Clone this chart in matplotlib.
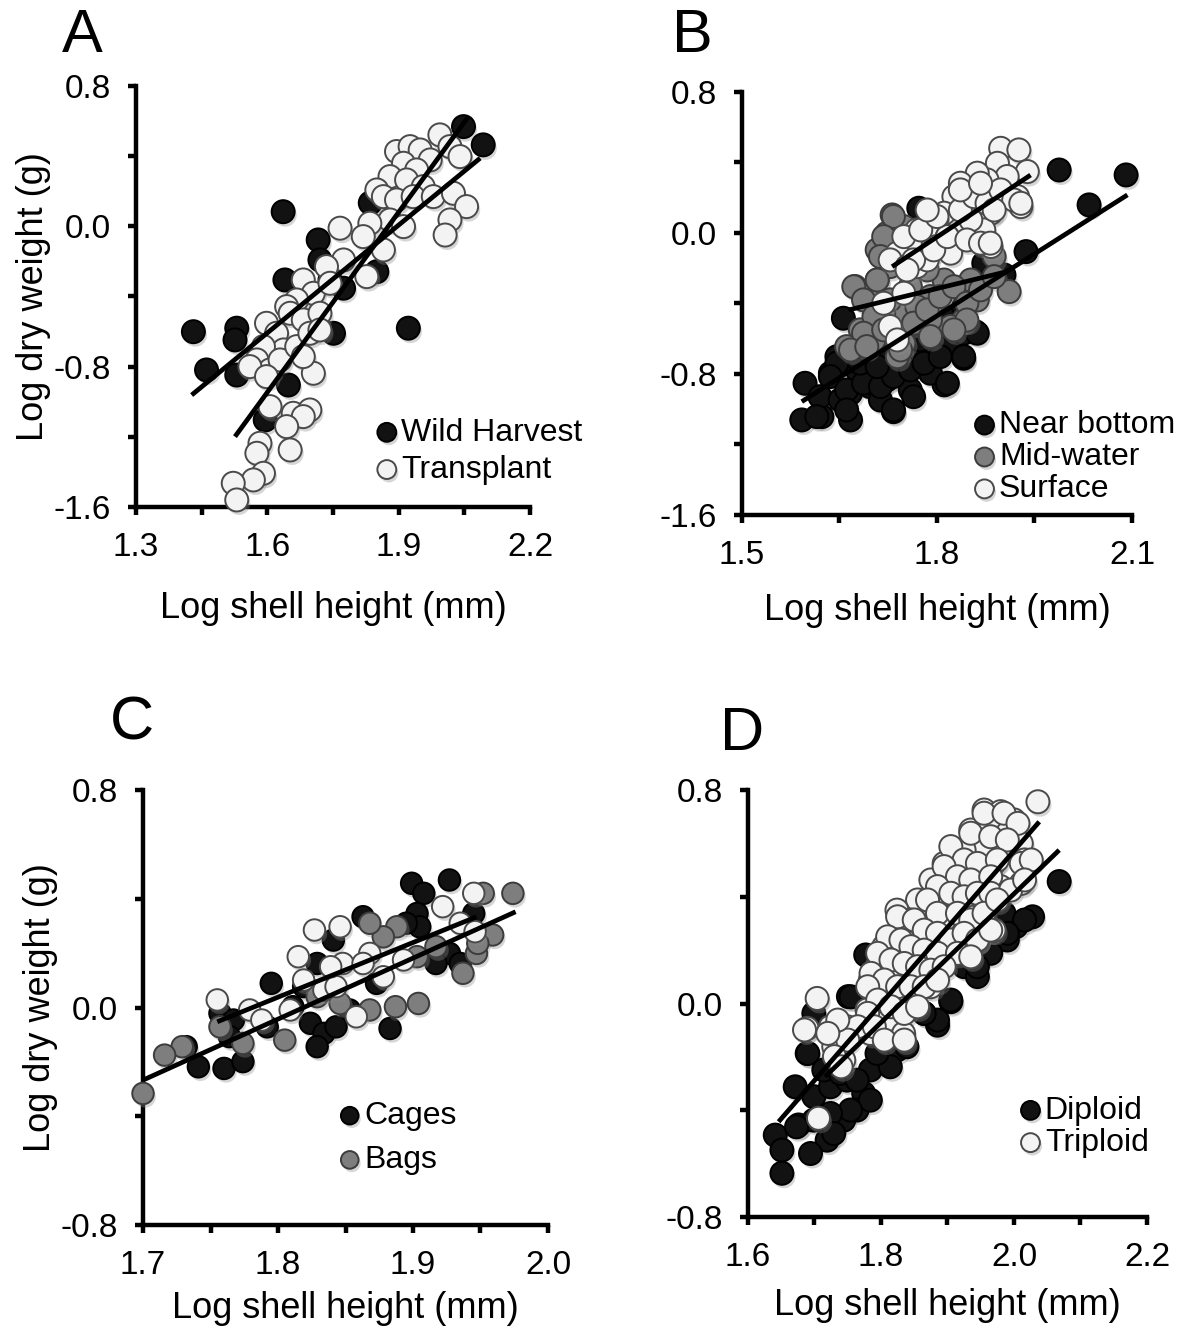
import matplotlib
matplotlib.use("Agg")
import matplotlib.pyplot as plt
import matplotlib.patheffects as pe
import numpy as np
from matplotlib.ticker import FormatStrFormatter

plt.rcParams['font.family'] = ['Liberation Sans', 'DejaVu Sans']
plt.rcParams['axes.unicode_minus'] = False

# ---------------- Panel A ----------------
A_wild_x = [1.431, 1.461, 1.530, 1.526, 1.530, 1.636, 1.640, 1.716, 1.720, 1.751,
            1.648, 1.595, 1.774, 1.850, 1.922, 2.048, 2.093, 1.713, 1.835, 1.743]
A_wild_y = [-0.601, -0.819, -0.581, -0.648, -0.848, 0.083, -0.306, -0.078, -0.192, -0.610,
            -0.905, -1.104, -0.353, -0.259, -0.581, 0.568, 0.464, -0.534, 0.133, -0.306]
A_trans_x = [1.895, 1.926, 1.949, 1.994, 2.017, 2.040, 1.972, 1.911, 1.941, 1.880,
             1.918, 1.956, 1.850, 1.865, 1.895, 1.933, 1.979, 2.025, 2.055, 2.017,
             2.006, 1.880, 1.911, 1.834, 1.766, 1.774, 1.865, 1.827, 1.682, 1.705,
             1.667, 1.644, 1.652, 1.682, 1.720, 1.598, 1.621, 1.637, 1.591, 1.576,
             1.606, 1.629, 1.667, 1.697, 1.705, 1.682, 1.560, 1.598, 1.606, 1.659,
             1.697, 1.682, 1.644, 1.652, 1.583, 1.576, 1.591, 1.568, 1.522, 1.530,
             1.735, 1.743, 1.819, 1.720]
A_trans_y = [0.426, 0.454, 0.435, 0.521, 0.454, 0.397, 0.378, 0.359, 0.321, 0.283,
             0.264, 0.226, 0.207, 0.169, 0.150, 0.169, 0.169, 0.188, 0.112, 0.036,
             -0.050, 0.036, -0.002, 0.017, -0.011, -0.192, -0.135, -0.287, -0.306, -0.382,
             -0.420, -0.458, -0.496, -0.534, -0.496, -0.553, -0.610, -0.705, -0.686, -0.762,
             -0.819, -0.762, -0.686, -0.610, -0.838, -0.743, -0.800, -0.857, -1.028, -1.066,
             -1.047, -1.085, -1.142, -1.275, -1.237, -1.294, -1.408, -1.446, -1.465, -1.560,
             -0.230, -0.325, -0.059, -0.591]
# fitted lines: (slope, intercept, x_start, x_end)
A_fit_wild = (2.049, -3.886, 1.427, 2.086)
A_fit_trans = (3.422, -6.421, 1.526, 2.059)

# ---------------- Panel B ----------------
B_bottom_x = [1.597, 1.592, 1.623, 1.667, 1.733, 1.811, 1.841, 1.859, 1.656, 1.772,
              1.988, 2.091, 2.034, 1.937, 1.903, 1.872, 1.646, 1.677, 1.697, 1.723,
              1.749, 1.769, 1.790, 1.790, 1.759, 1.667, 1.636, 1.697, 1.728, 1.816,
              1.841, 1.800, 1.775, 1.620, 1.651, 1.713, 1.744, 1.821, 1.764, 1.841,
              1.646, 1.636, 1.661, 1.687, 1.713, 1.733, 1.759, 1.780, 1.805, 1.816,
              1.841, 1.862, 1.682, 1.708, 1.661, 1.615, 1.733, 1.764]
B_bottom_y = [-0.853, -1.061, -1.042, -1.061, -1.014, -0.862, -0.711, -0.560, -0.484, 0.140,
              0.357, 0.329, 0.159, -0.106, -0.238, -0.172, -0.702, -0.777, -0.872, -0.834,
              -0.777, -0.721, -0.645, -0.796, -0.891, -0.910, -0.796, -0.777, -0.683, -0.494,
              -0.418, -0.569, -0.607, -0.929, -0.948, -0.948, -0.626, -0.645, -0.456, -0.569,
              -0.739, -0.815, -0.891, -0.853, -0.872, -0.815, -0.777, -0.739, -0.702, -0.853,
              -0.702, -0.569, -0.739, -0.758, -1.004, -1.042, -1.004, -0.929]
B_mid_x = [1.731, 1.723, 1.749, 1.674, 1.708, 1.692, 1.682, 1.703, 1.661, 1.911,
           1.888, 1.841, 1.821, 1.728, 1.759, 1.790, 1.811, 1.852, 1.739, 1.769,
           1.718, 1.749, 1.790, 1.708, 1.862, 1.733, 1.718, 1.713, 1.672, 1.687,
           1.708, 1.728, 1.703, 1.687, 1.667, 1.692, 1.718, 1.739, 1.764, 1.785,
           1.805, 1.826, 1.846, 1.867, 1.846, 1.826, 1.790, 1.888, 1.754, 1.785,
           1.744]
B_mid_y = [0.102, -0.002, 0.036, -0.304, -0.267, -0.361, -0.550, -0.607, -0.645, -0.333,
           -0.134, -0.494, -0.531, -0.191, -0.304, -0.361, -0.267, -0.267, -0.456, -0.418,
           -0.456, -0.626, -0.494, -0.096, -0.380, 0.093, -0.021, -0.134, -0.305, -0.380,
           -0.267, -0.380, -0.475, -0.569, -0.664, -0.645, -0.550, -0.702, -0.512, -0.437,
           -0.361, -0.305, -0.399, -0.323, -0.494, -0.550, -0.588, -0.248, -0.058, -0.210,
           -0.664]
B_surf_x = [1.898, 1.926, 1.939, 1.924, 1.929, 1.893, 1.908, 1.877, 1.862, 1.836,
            1.826, 1.852, 1.883, 1.872, 1.841, 1.883, 1.811, 1.800, 1.790, 1.769,
            1.759, 1.739, 1.728, 1.754, 1.769, 1.800, 1.816, 1.821, 1.785, 1.852,
            1.728, 1.739, 1.718, 1.749, 1.749, 1.764, 1.775, 1.795, 1.816, 1.800,
            1.836, 1.846, 1.867, 1.882, 1.857, 1.877, 1.898, 1.918, 1.929, 1.836,
            1.867, 1.888, 1.754, 1.785]
B_surf_y = [0.480, 0.471, 0.348, 0.206, 0.149, 0.395, 0.320, 0.301, 0.339, 0.282,
            0.206, 0.187, 0.112, 0.017, -0.002, -0.077, 0.112, 0.074, 0.036, 0.017,
            -0.058, -0.115, -0.153, -0.191, -0.191, -0.077, -0.021, -0.115, -0.153, 0.074,
            -0.531, -0.607, -0.399, -0.342, -0.021, -0.153, 0.017, -0.096, -0.021, 0.093,
            0.130, -0.040, -0.058, -0.058, 0.206, 0.168, 0.244, 0.187, 0.168, 0.244,
            0.282, 0.130, -0.210, 0.130]
B_fit_bottom = (2.341, -4.684, 1.592, 2.093)
B_fit_mid = (0.893, -1.923, 1.664, 1.908)
B_fit_surf = (2.440, -4.415, 1.731, 1.944)

# ---------------- Panel C ----------------
C_cage_x = [1.899, 1.927, 1.863, 1.908, 1.903, 1.905, 1.895, 1.945, 1.927, 1.917,
            1.935, 1.841, 1.829, 1.795, 1.819, 1.757, 1.767, 1.792, 1.824, 1.834,
            1.843, 1.829, 1.883, 1.732, 1.741, 1.760, 1.774, 1.853, 1.873, 1.764,
            1.811]
C_cage_y = [0.457, 0.469, 0.334, 0.420, 0.346, 0.297, 0.310, 0.346, 0.199, 0.162,
            0.162, 0.248, 0.162, 0.089, 0.077, -0.021, -0.046, -0.071, -0.058, -0.095,
            -0.071, -0.144, -0.077, -0.144, -0.218, -0.224, -0.199, -0.009, 0.089, -0.107,
            0.003]
C_bag_x = [1.974, 1.952, 1.959, 1.947, 1.948, 1.917, 1.903, 1.888, 1.878, 1.868,
           1.904, 1.887, 1.868, 1.846, 1.829, 1.805, 1.774, 1.757, 1.729, 1.716,
           1.700, 1.937]
C_bag_y = [0.420, 0.420, 0.267, 0.199, 0.236, 0.224, 0.187, 0.297, 0.260, 0.310,
           0.015, 0.003, -0.009, 0.015, 0.040, -0.120, -0.132, -0.071, -0.144, -0.175,
           -0.316, 0.126]
C_other_x = [1.827, 1.846, 1.815, 1.868, 1.848, 1.819, 1.834, 1.843, 1.755, 1.779,
             1.788, 1.809, 1.858, 1.878, 1.863, 1.922, 1.945, 1.935, 1.946, 1.893,
             1.839]
C_other_y = [0.285, 0.297, 0.187, 0.199, 0.162, 0.101, 0.064, 0.077, 0.028, -0.009,
             -0.046, -0.009, -0.034, 0.113, 0.162, 0.371, 0.420, 0.310, 0.279, 0.175,
             0.150]
C_fit_1 = (2.243, -4.080, 1.700, 1.976)
C_fit_2 = (2.010, -3.580, 1.755, 1.947)

# ---------------- Panel D ----------------
D_dip_x = [2.068, 2.028, 2.003, 1.990, 1.777, 1.751, 1.905, 1.885, 1.865, 1.689,
           1.671, 1.699, 1.724, 1.749, 1.774, 1.804, 1.824, 1.744, 1.719, 1.694,
           1.676, 1.641, 1.651, 1.651, 1.784, 1.764, 1.925, 1.955, 1.945, 1.699,
           1.985, 1.755, 2.016, 1.990, 1.965, 1.945, 1.905, 1.885, 1.865, 1.690,
           1.714, 1.739, 1.764, 1.784, 1.754, 1.724, 1.699, 1.673, 1.729, 1.814,
           1.839, 1.794]
D_dip_y = [0.457, 0.325, 0.288, 0.238, 0.182, 0.026, 0.007, -0.081, -0.037, -0.187,
           -0.312, -0.349, -0.312, -0.287, -0.337, -0.212, -0.174, -0.437, -0.512, -0.562,
           -0.455, -0.493, -0.549, -0.636, -0.249, -0.399, 0.138, 0.188, 0.101, -0.037,
           0.338, 0.025, 0.313, 0.263, 0.188, 0.138, 0.013, -0.062, -0.037, -0.187,
           -0.249, -0.262, -0.287, -0.362, -0.399, -0.412, -0.437, -0.462, -0.487, -0.237,
           -0.162, -0.187]
D_trip_x = [2.036, 1.955, 1.980, 2.000, 1.935, 1.965, 1.990, 2.011, 2.016, 2.011,
            1.980, 1.970, 1.950, 1.925, 1.895, 1.905, 1.935, 1.875, 1.885, 1.855,
            1.824, 1.844, 1.865, 1.895, 1.925, 1.955, 1.970, 1.945, 1.915, 1.885,
            1.855, 1.834, 1.804, 1.814, 1.794, 1.784, 1.824, 1.844, 1.875, 1.804,
            1.779, 1.809, 1.834, 1.784, 1.749, 1.734, 1.704, 1.689, 1.724, 1.744,
            1.729, 1.706,
            1.955, 1.985, 2.006, 1.935, 1.965, 1.990, 1.905, 1.925, 1.945, 1.975,
            2.011, 2.026, 1.895, 1.915, 1.935, 1.965, 1.885, 1.905, 1.925, 1.945,
            1.965, 1.995, 1.870, 1.885, 1.915, 1.935, 1.955, 1.975, 2.016, 1.825,
            1.850, 1.865, 1.885, 1.905, 1.925, 1.945, 1.965, 1.810, 1.830, 1.845,
            1.865, 1.885, 1.915, 1.935, 1.795, 1.815, 1.835, 1.855, 1.875, 1.895,
            1.785, 1.805, 1.825, 1.845, 1.865, 1.885, 1.780, 1.795, 1.815, 1.835,
            1.855, 1.780, 1.765, 1.790, 1.805, 1.835, 1.750, 1.735, 1.685, 1.720,
            1.730, 1.740]
D_trip_y = [0.756, 0.725, 0.719, 0.688, 0.650, 0.663, 0.638, 0.600, 0.538, 0.450,
            0.438, 0.525, 0.588, 0.575, 0.525, 0.463, 0.488, 0.463, 0.388, 0.388,
            0.350, 0.313, 0.288, 0.313, 0.338, 0.388, 0.275, 0.238, 0.213, 0.163,
            0.138, 0.238, 0.213, 0.163, 0.138, 0.088, 0.088, 0.038, 0.063, 0.026,
            -0.024, -0.062, -0.112, -0.112, -0.087, -0.137, 0.019, -0.093, -0.087, -0.212,
            -0.162, -0.430,
            0.713, 0.713, 0.675, 0.638, 0.625, 0.613, 0.588, 0.538, 0.525, 0.538,
            0.525, 0.538, 0.513, 0.475, 0.463, 0.475, 0.438, 0.413, 0.400, 0.413,
            0.413, 0.425, 0.388, 0.338, 0.338, 0.313, 0.338, 0.388, 0.463, 0.325,
            0.313, 0.275, 0.263, 0.238, 0.263, 0.238, 0.275, 0.250, 0.238, 0.213,
            0.200, 0.188, 0.188, 0.175, 0.188, 0.163, 0.150, 0.138, 0.125, 0.138,
            0.113, 0.088, 0.063, 0.063, 0.063, 0.088, 0.063, 0.013, -0.012, -0.037,
            -0.012, -0.037, -0.087, -0.087, -0.137, -0.137, -0.137, -0.062, -0.099, -0.112,
            -0.199, -0.237]
D_fit_trip = (2.867, -5.162, 1.646, 2.038)
D_fit_dip = (2.412, -4.413, 1.716, 2.068)

# ---------------- styling ----------------
BLACK = dict(facecolor='#121212', edgecolor='#000000')
GRAY = dict(facecolor='#7e7e7e', edgecolor='#3c3c3c')
WHITE = dict(facecolor='#f3f3f3', edgecolor='#4a4a4a')
MS = 275
shadow = [pe.SimplePatchShadow(offset=(1.5, -2.5), shadow_rgbFace='0.55', alpha=0.35), pe.Normal()]

fig = plt.figure(figsize=(11.8, 13.32), dpi=100)

def make_ax(rect, xlim, ylim, xmaj, xmin, ymaj, ymin, ylabel, xpad):
    ax = fig.add_axes(rect)
    ax.set_xlim(xlim)
    ax.set_ylim(ylim)
    for s in ['top', 'right']:
        ax.spines[s].set_visible(False)
    for s in ['left', 'bottom']:
        ax.spines[s].set_linewidth(3.2)
    ax.set_xticks(xmaj)
    ax.set_xticks(xmin, minor=True)
    ax.set_yticks(ymaj)
    ax.set_yticks(ymin, minor=True)
    ax.xaxis.set_major_formatter(FormatStrFormatter('%.1f'))
    ax.yaxis.set_major_formatter(FormatStrFormatter('%.1f'))
    ax.tick_params(which='both', direction='out', length=6, width=3.2, pad=12, labelsize=24)
    ax.set_xlabel('Log shell height (mm)', fontsize=26, labelpad=xpad)
    if ylabel:
        ax.set_ylabel('Log dry weight (g)', fontsize=26, labelpad=2)
    return ax

def pts(ax, x, y, style, label=None, s=MS):
    ax.scatter(x, y, s=s, linewidths=1.4, label=label, zorder=3, clip_on=False,
               path_effects=shadow, **style)

def fit(ax, f):
    slope, icpt, x0, x1 = f
    xs = np.array([x0, x1])
    ax.plot(xs, slope * xs + icpt, color='black', lw=3.4, zorder=5, solid_capstyle='butt')

def legend(ax, anchor, spacing):
    leg = ax.legend(loc='upper left', bbox_to_anchor=anchor, frameon=False, fontsize=23,
                    handletextpad=0.0, handlelength=0.9, borderpad=0, borderaxespad=0,
                    labelspacing=spacing, markerscale=0.82)
    return leg

# Panel A
axA = make_ax([0.1153, 0.6194, 0.3339, 0.3161], (1.3, 2.2), (-1.6, 0.8),
              [1.3, 1.6, 1.9, 2.2], [1.45, 1.75, 2.05], [-1.6, -0.8, 0.0, 0.8], [-1.2, -0.4, 0.4],
              True, 20)
pts(axA, A_wild_x, A_wild_y, BLACK, 'Wild Harvest')
pts(axA, A_trans_x, A_trans_y, WHITE, 'Transplant')
fit(axA, A_fit_wild)
fit(axA, A_fit_trans)
legend(axA, (0.60, 0.212), 0.226)

# Panel B
axB = make_ax([0.6288, 0.6134, 0.3305, 0.3176], (1.5, 2.1), (-1.6, 0.8),
              [1.5, 1.8, 2.1], [1.65, 1.95], [-1.6, -0.8, 0.0, 0.8], [-1.2, -0.4, 0.4],
              False, 16)
pts(axB, B_bottom_x, B_bottom_y, BLACK, 'Near bottom')
pts(axB, B_mid_x, B_mid_y, GRAY, 'Mid-water')
pts(axB, B_surf_x, B_surf_y, WHITE, 'Surface')
fit(axB, B_fit_bottom)
fit(axB, B_fit_mid)
fit(axB, B_fit_surf)
legend(axB, (0.585, 0.247), 0.06)

# Panel C
axC = make_ax([0.1212, 0.0803, 0.3432, 0.3266], (1.7, 2.0), (-0.8, 0.8),
              [1.7, 1.8, 1.9, 2.0], [1.75, 1.85, 1.95], [-0.8, 0.0, 0.8], [-0.4, 0.4],
              True, 7)
pts(axC, C_cage_x, C_cage_y, BLACK, 'Cages', s=240)
pts(axC, C_bag_x, C_bag_y, GRAY, 'Bags', s=240)
pts(axC, C_other_x, C_other_y, WHITE, None, s=240)
fit(axC, C_fit_1)
fit(axC, C_fit_2)
legend(axC, (0.475, 0.285), 0.445)

# Panel D
axD = make_ax([0.6339, 0.0863, 0.3381, 0.3206], (1.6, 2.2), (-0.8, 0.8),
              [1.6, 1.8, 2.0, 2.2], [1.7, 1.9, 2.1], [-0.8, 0.0, 0.8], [-0.4, 0.4],
              False, 11)
pts(axD, D_dip_x, D_dip_y, BLACK, 'Diploid')
pts(axD, D_trip_x, D_trip_y, WHITE, 'Triploid')
fit(axD, D_fit_trip)
fit(axD, D_fit_dip)
legend(axD, (0.672, 0.284), 0.07)

# Panel letters
for lab, (px, py) in zip(['A', 'B', 'C', 'D'], [(82, 36), (692, 36), (132, 724), (742, 735)]):
    fig.text(px / 1180, 1 - py / 1332, lab, fontsize=44, ha='center', va='center')

fig.savefig('out.png', dpi=100)
